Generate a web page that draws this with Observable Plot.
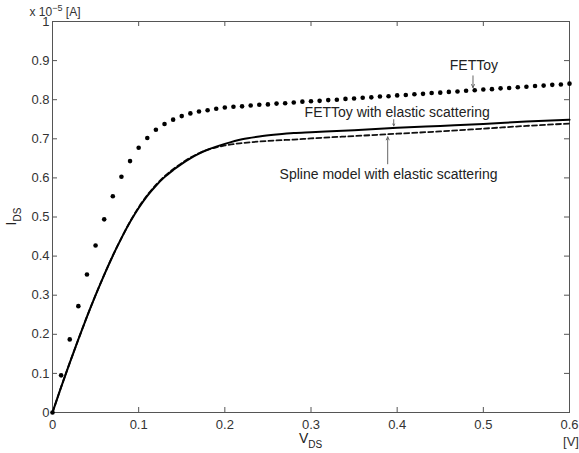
<!DOCTYPE html>
<html><head><meta charset="utf-8">
<script src="https://cdn.jsdelivr.net/npm/d3@7"></script>
<script src="https://cdn.jsdelivr.net/npm/@observablehq/plot@0.6"></script>
<style>body{margin:0;background:#fff} svg{display:block}</style>
</head><body><div id="chart"></div>
<script>
// FETToy (dotted) samples, VDS in volts, IDS in units of 1e-5 A
const vdsDots = [0,0.01,0.02,0.03,0.04,0.05,0.06,0.07,0.08,0.09,
  0.10,0.11,0.12,0.13,0.14,0.15,0.16,0.17,0.18,0.19,
  0.20,0.21,0.22,0.23,0.24,0.25,0.26,0.27,0.28,0.29,
  0.30,0.31,0.32,0.33,0.34,0.35,0.36,0.37,0.38,0.39,
  0.40,0.41,0.42,0.43,0.44,0.45,0.46,0.47,0.48,0.49,
  0.50,0.51,0.52,0.53,0.54,0.55,0.56,0.57,0.58,0.59,0.60];
const fettoy = [0,0.095,0.187,0.272,0.353,0.427,0.494,0.553,0.603,0.643,
  0.677,0.702,0.723,0.738,0.749,0.758,0.765,0.770,0.773,0.777,
  0.780,0.782,0.783,0.785,0.787,0.788,0.790,0.791,0.793,0.795,
  0.796,0.797,0.799,0.800,0.802,0.803,0.805,0.806,0.808,0.809,
  0.811,0.812,0.814,0.815,0.817,0.818,0.820,0.821,0.823,0.824,
  0.826,0.827,0.829,0.830,0.832,0.833,0.835,0.836,0.838,0.839,0.841];

// Solid and dashed curves
const vdsLine = [0,0.01,0.02,0.03,0.04,0.05,0.06,0.07,0.08,0.09,0.10,0.11,0.12,0.13,0.14,0.15,0.16,0.17,0.18,0.19,0.20,0.22,0.24,0.26,0.28,0.30,0.35,0.40,0.45,0.50,0.55,0.60];
const fettoyElastic = [0,0.065,0.127,0.187,0.245,0.300,0.352,0.401,0.446,0.487,0.523,0.554,0.580,0.602,0.620,0.636,0.650,0.662,0.672,0.680,0.687,0.699,0.706,0.711,0.715,0.717,0.722,0.728,0.733,0.738,0.744,0.749];
const splineElastic = [0,0.065,0.127,0.187,0.245,0.300,0.352,0.401,0.446,0.488,0.525,0.556,0.582,0.604,0.622,0.638,0.652,0.663,0.672,0.678,0.683,0.689,0.693,0.696,0.698,0.701,0.707,0.713,0.719,0.726,0.733,0.739];

const xTicks = [0,0.1,0.2,0.3,0.4,0.5,0.6];
const yTicks = [0,0.1,0.2,0.3,0.4,0.5,0.6,0.7,0.8,0.9,1];

// Annotations
const annLabels = ["FETToy","FETToy with elastic scattering","Spline model with elastic scattering"];
const annX = [0.489,0.400,0.390];
const annY = [0.875,0.757,0.597];
const arrowX = [0.488,0.396,0.389];
const arrowY1 = [0.861,0.749,0.636];
const arrowY2 = [0.831,0.733,0.705];

const dotData = vdsDots.map((v,i)=>({v, i: fettoy[i]}));
const elasticData = vdsLine.map((v,i)=>({v, i: fettoyElastic[i]}));
const splineData = vdsLine.map((v,i)=>({v, i: splineElastic[i]}));
const annData = annLabels.map((t,k)=>({t, x: annX[k], y: annY[k]}));
const arrowData = arrowX.map((x,k)=>({x, y1: arrowY1[k], y2: arrowY2[k]}));

const fmt = d => String(+d.toFixed(1));
const axisColor = "#555";
const W = 579, H = 453, mL = 52, mR = 10, mT = 21, mB = 41;
const xMax = 0.6, yMax = 1;
const tickPx = 5;
const tx = tickPx / (W - mL - mR) * xMax;   // inward tick length in x units
const ty = tickPx / (H - mT - mB) * yMax;   // inward tick length in y units

const chart = Plot.plot({
  width: W, height: H,
  marginLeft: mL, marginRight: mR, marginTop: mT, marginBottom: mB,
  style: {fontFamily: "Liberation Sans, Arial, sans-serif", fontSize: "13px", color: "#333", background: "#fff"},
  x: {domain: [0, xMax]},
  y: {domain: [0, yMax]},
  marks: [
    Plot.frame({stroke: axisColor, strokeWidth: 1}),
    Plot.axisX(xTicks, {anchor: "bottom", tickSize: 0, tickPadding: 7, tickFormat: fmt, label: null, fontSize: 13}),
    Plot.axisY(yTicks, {anchor: "left", tickSize: 0, tickPadding: 3, tickFormat: fmt, label: null, fontSize: 13}),
    Plot.ruleX(xTicks, {x: d => d, y1: 0, y2: ty, stroke: axisColor}),
    Plot.ruleX(xTicks, {x: d => d, y1: yMax - ty, y2: yMax, stroke: axisColor}),
    Plot.ruleY(yTicks, {y: d => d, x1: 0, x2: tx, stroke: axisColor}),
    Plot.ruleY(yTicks, {y: d => d, x1: xMax - tx, x2: xMax, stroke: axisColor}),
    Plot.line(splineData, {x: "v", y: "i", stroke: "#111", strokeWidth: 1.8, strokeDasharray: "5,3", curve: "monotone-x"}),
    Plot.line(elasticData, {x: "v", y: "i", stroke: "#000", strokeWidth: 2, curve: "monotone-x"}),
    Plot.dot(dotData, {x: "v", y: "i", r: 2.3, fill: "#000", stroke: null}),
    Plot.arrow(arrowData, {x1: "x", y1: "y1", x2: "x", y2: "y2", stroke: "#666", strokeWidth: 1, headLength: 5, headAngle: 50}),
    Plot.text(annData, {x: "x", y: "y", text: "t", lineAnchor: "bottom", fontSize: 14, fill: "#222"})
  ]
});
document.getElementById("chart").append(chart);

const svg = d3.select(chart);
const xs = chart.scale("x"), ys = chart.scale("y");
const ff = "Liberation Sans, Arial, sans-serif";
// y unit label
const tA = svg.append("text").attr("x", xs.apply(0) + 3).attr("y", 16)
  .attr("font-family", ff).attr("font-size", 12).attr("fill", "#333");
tA.append("tspan").text("x 10");
tA.append("tspan").attr("dy", -5).attr("font-size", 9).text("\u22125");
tA.append("tspan").attr("dy", 5).text(" [A]");
// x unit label
svg.append("text").attr("x", xs.apply(0.6) + 2).attr("y", 446).attr("text-anchor", "middle")
  .attr("font-family", ff).attr("font-size", 13).attr("fill", "#333").text("[V]");
// x axis label V_DS
const tV = svg.append("text").attr("x", xs.apply(0.3)).attr("y", 443).attr("text-anchor", "middle")
  .attr("font-family", ff).attr("font-size", 14).attr("fill", "#222");
tV.append("tspan").text("V");
tV.append("tspan").attr("dy", 5).attr("font-size", 10).text("DS");
// y axis label I_DS
const tI = svg.append("text").attr("transform", `translate(16,${ys.apply(0.5)}) rotate(-90)`).attr("text-anchor", "middle")
  .attr("font-family", ff).attr("font-size", 14).attr("fill", "#222");
tI.append("tspan").text("I");
tI.append("tspan").attr("dy", 5).attr("font-size", 10).text("DS");
</script>
</body></html>
